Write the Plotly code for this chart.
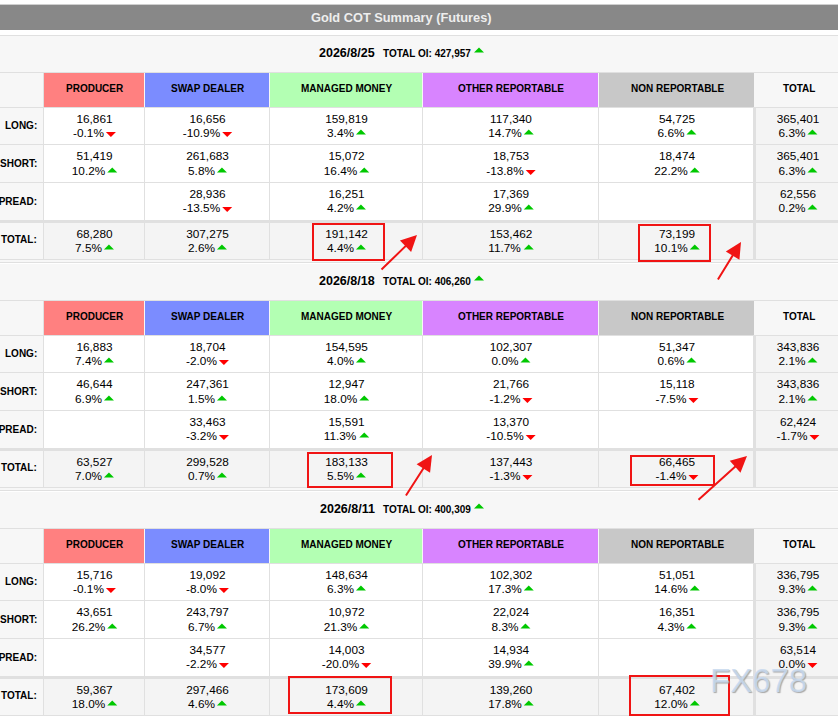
import plotly.graph_objects as go

FONT = "Liberation Sans"

COLUMNS = ["PRODUCER", "SWAP DEALER", "MANAGED MONEY", "OTHER REPORTABLE", "NON REPORTABLE", "TOTAL"]
ROW_LABELS = ["LONG:", "SHORT:", "SPREAD:", "TOTAL:"]
DATES = ["2026/8/25", "2026/8/18", "2026/8/11"]
TOTAL_OI = ["427,957", "406,260", "400,309"]

# 2026/8/25
LONG_25 = ["16,861", "16,656", "159,819", "117,340", "54,725", "365,401"]
LONG_25_PCT = ["-0.1%", "-10.9%", "3.4%", "14.7%", "6.6%", "6.3%"]
SHORT_25 = ["51,419", "261,683", "15,072", "18,753", "18,474", "365,401"]
SHORT_25_PCT = ["10.2%", "5.8%", "16.4%", "-13.8%", "22.2%", "6.3%"]
SPREAD_25 = [None, "28,936", "16,251", "17,369", None, "62,556"]
SPREAD_25_PCT = [None, "-13.5%", "4.2%", "29.9%", None, "0.2%"]
TOTAL_25 = ["68,280", "307,275", "191,142", "153,462", "73,199", None]
TOTAL_25_PCT = ["7.5%", "2.6%", "4.4%", "11.7%", "10.1%", None]

# 2026/8/18
LONG_18 = ["16,883", "18,704", "154,595", "102,307", "51,347", "343,836"]
LONG_18_PCT = ["7.4%", "-2.0%", "4.0%", "0.0%", "0.6%", "2.1%"]
SHORT_18 = ["46,644", "247,361", "12,947", "21,766", "15,118", "343,836"]
SHORT_18_PCT = ["6.9%", "1.5%", "18.0%", "-1.2%", "-7.5%", "2.1%"]
SPREAD_18 = [None, "33,463", "15,591", "13,370", None, "62,424"]
SPREAD_18_PCT = [None, "-3.2%", "11.3%", "-10.5%", None, "-1.7%"]
TOTAL_18 = ["63,527", "299,528", "183,133", "137,443", "66,465", None]
TOTAL_18_PCT = ["7.0%", "0.7%", "5.5%", "-1.3%", "-1.4%", None]

# 2026/8/11
LONG_11 = ["15,716", "19,092", "148,634", "102,302", "51,051", "336,795"]
LONG_11_PCT = ["-0.1%", "-8.0%", "6.3%", "17.3%", "14.6%", "9.3%"]
SHORT_11 = ["43,651", "243,797", "10,972", "22,024", "16,351", "336,795"]
SHORT_11_PCT = ["26.2%", "6.7%", "21.3%", "8.3%", "4.3%", "9.3%"]
SPREAD_11 = [None, "34,577", "14,003", "14,934", None, "63,514"]
SPREAD_11_PCT = [None, "-2.2%", "-20.0%", "39.9%", None, "0.0%"]
TOTAL_11 = ["59,367", "297,466", "173,609", "139,260", "67,402", None]
TOTAL_11_PCT = ["18.0%", "4.6%", "4.4%", "17.8%", "12.0%", None]

PANELS = [
    [(LONG_25, LONG_25_PCT), (SHORT_25, SHORT_25_PCT), (SPREAD_25, SPREAD_25_PCT), (TOTAL_25, TOTAL_25_PCT)],
    [(LONG_18, LONG_18_PCT), (SHORT_18, SHORT_18_PCT), (SPREAD_18, SPREAD_18_PCT), (TOTAL_18, TOTAL_18_PCT)],
    [(LONG_11, LONG_11_PCT), (SHORT_11, SHORT_11_PCT), (SPREAD_11, SPREAD_11_PCT), (TOTAL_11, TOTAL_11_PCT)],
]
# the one 0.0% that has a red arrow on the page: panel, row, column
ZERO_DOWN = [(2, 2, 5)]

# layout in pixels, the axes below run 0-838 and 716-0
COL_EDGES = [44, 145, 270, 423, 599, 755, 838]
HEAD_COLORS = ["#ff8080", "#7b8cff", "#b3ffb3", "#d884ff", "#c8c8c8", "#f7f7f7"]
PANEL_STEP = 228
ROW_TOPS = [108, 145, 183, 223]
ROW_BOTTOMS = [144, 182, 220, 259]
VALUE_Y = [120.5, 157.5, 195.5, 235.5]
PCT_Y = [134, 172, 209, 249]
ARROW_Y = [133, 171, 208, 248]
LABEL_Y = [125.5, 163.5, 201.5, 239.5]
LINE = "#e0e0e0"
UP = "#00c800"
DOWN = "#ff0000"
TEXT = "#000000"

# red boxes and hand drawn arrows on top of the table
BOXES = [(313, 224, 384, 260), (639, 225, 710, 261), (308, 453, 392, 487),
         (631, 456, 714, 485), (289, 677, 391, 713), (630, 676, 729, 715)]
ARROWS = [(380, 271, 417, 235), (717, 281, 741, 242), (405, 497, 432, 455), (697, 501, 747, 456)]

CHAR_W = {".": 0.278, ",": 0.278, "%": 0.889, "-": 0.333}


def text_width(s, size):
    return sum(CHAR_W.get(c, 0.556) for c in s) * size


def rect(x0, y0, x1, y1, color):
    return dict(type="rect", x0=x0, y0=y0, x1=x1, y1=y1, fillcolor=color, line_width=0, layer="below")


def triangle(x, y, up, color):
    if up:
        path = f"M{x},{y + 1.5} L{x + 10},{y + 1.5} L{x + 5},{y - 3.5} Z"
    else:
        path = f"M{x},{y - 1} L{x + 10},{y - 1} L{x + 5},{y + 4} Z"
    return dict(type="path", path=path, fillcolor=color, line_width=0)


shapes = [
    rect(0, 4, 838, 5, "#cfcfcf"),
    rect(0, 5, 838, 30, "#888888"),
    rect(0, 35, 838, 36, LINE),
]
ann = [dict(x=401.5, y=17.5, text="<b>Gold COT Summary (Futures)</b>", showarrow=False,
            font=dict(family=FONT, size=12.8, color="#eeeeee"))]
val_x, val_y, val_text = [], [], []
pct_x, pct_y, pct_text = [], [], []

for p, rows in enumerate(PANELS):
    off = p * PANEL_STEP
    shapes.append(rect(0, 36 + off, 838, 262 + off, "#f7f7f7"))
    shapes.append(rect(0, 262 + off, 838, 263 + off, LINE))
    shapes.append(rect(0, 72 + off, 838, 73 + off, LINE))
    shapes.append(rect(0, 107 + off, 838, 108 + off, LINE))
    ann.append(dict(x=347, y=52.5 + off, text=f"<b>{DATES[p]}</b>", showarrow=False,
                    font=dict(family=FONT, size=12.5, color="#000000")))
    ann.append(dict(x=381, y=53.5 + off, xanchor="left", text=f"<b>TOTAL OI: {TOTAL_OI[p]}</b>", showarrow=False,
                    font=dict(family=FONT, size=10, color=TEXT)))
    shapes.append(triangle(474, 51 + off, True, UP))

    for c, name in enumerate(COLUMNS):
        x0, x1 = COL_EDGES[c], COL_EDGES[c + 1]
        shapes.append(rect(x0, 73 + off, x1 - 1 if c < 5 else x1, 107 + off, HEAD_COLORS[c]))
        ann.append(dict(x=(x0 + x1) / 2 + (2 if c == 5 else 0), y=88.5 + off, text=f"<b>{name}</b>", showarrow=False,
                        font=dict(family=FONT, size=10, color=TEXT)))

    for r, (vals, pcts) in enumerate(rows):
        top, bottom = ROW_TOPS[r] + off, ROW_BOTTOMS[r] + off
        ann.append(dict(x=39, y=LABEL_Y[r] + off, xanchor="right", text=f"<b>{ROW_LABELS[r]}</b>",
                        showarrow=False, font=dict(family=FONT, size=10, color=TEXT)))
        shapes.append(rect(0, bottom, 838, bottom + 1, LINE))
        for c in range(6):
            x0, x1 = COL_EDGES[c], COL_EDGES[c + 1]
            if r == 3 or c == 5:
                bg = "#f4f4f4"
            else:
                bg = "#ffffff"
            shapes.append(rect(x0, top, x1, bottom, bg))
            if c > 0 and c < 5:
                shapes.append(rect(x0 - 1, top, x0, bottom, LINE))
            if vals[c] is None:
                continue
            mid = (x0 + x1) / 2 + (1.5 if c == 5 else 0)
            val_x.append(mid)
            val_y.append(VALUE_Y[r] + off)
            val_text.append(vals[c])
            w = text_width(pcts[c], 11.8)
            start = mid - (w + 12) / 2
            pct_x.append(start)
            pct_y.append(PCT_Y[r] + off)
            pct_text.append(pcts[c])
            is_down = pcts[c].startswith("-") or (p, r, c) in ZERO_DOWN
            shapes.append(triangle(start + w + 2, ARROW_Y[r] + off, not is_down, DOWN if is_down else UP))

    # heavier rules around the total row and total column
    shapes.append(rect(0, 220 + off, 838, 223 + off, LINE))
    shapes.append(rect(753, 108 + off, 756, 259 + off, LINE))
    shapes.append(rect(43, 73 + off, 44, 259 + off, LINE))

for x0, y0, x1, y1 in BOXES:
    shapes.append(dict(type="rect", x0=x0, y0=y0, x1=x1, y1=y1, line=dict(color="#f01414", width=2)))

for tx, ty, hx, hy in ARROWS:
    ann.append(dict(x=hx, y=hy, ax=tx, ay=ty, axref="x", ayref="y", xref="x", yref="y", text="",
                    showarrow=True, arrowhead=2, arrowsize=1.6, arrowwidth=2, arrowcolor="#f01414"))

ann.append(dict(x=758.5, y=680.5, text="FX678", showarrow=False,
                font=dict(family=FONT, size=33, color="rgba(200,218,240,0.85)",
                          shadow="1px 1px 1px #9a9a9a")))

fig = go.Figure()
fig.add_trace(go.Scatter(x=val_x, y=val_y, text=val_text, mode="text", textposition="middle center",
                         textfont=dict(family=FONT, size=11.8, color=TEXT), hoverinfo="skip"))
fig.add_trace(go.Scatter(x=pct_x, y=pct_y, text=pct_text, mode="text", textposition="middle right",
                         textfont=dict(family=FONT, size=11.8, color=TEXT), hoverinfo="skip"))

fig.update_layout(width=838, height=716, margin=dict(l=0, r=0, t=0, b=0), showlegend=False,
                  paper_bgcolor="#ffffff", plot_bgcolor="#ffffff", shapes=shapes, annotations=ann)
fig.update_xaxes(range=[0, 838], visible=False, fixedrange=True)
fig.update_yaxes(range=[716, 0], visible=False, fixedrange=True)

fig.write_html("out.html", config={"displayModeBar": False},
               post_script="document.body.style.margin='0';document.body.style.overflow='hidden';")
